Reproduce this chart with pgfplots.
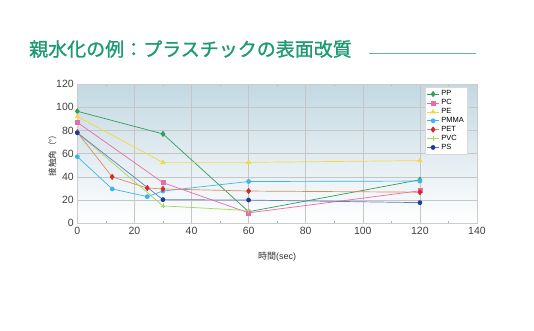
\documentclass[border=0pt]{standalone}
\usepackage{fontspec}
\setmainfont{Liberation Sans}
\newfontfamily\cjk{Noto Sans CJK JP}
\newfontfamily\cjkt[FakeBold=1.2]{Noto Sans CJK JP}
\usepackage{pgfplots}
\pgfplotsset{compat=1.18}
\definecolor{ttl}{HTML}{1E9A72}
\definecolor{cPP}{HTML}{2E9E5A}
\definecolor{cPC}{HTML}{EC6AA8}
\definecolor{cPE}{HTML}{F5D840}
\definecolor{cPM}{HTML}{3CB6EA}
\definecolor{cPETm}{HTML}{D42A2A}
\definecolor{cPETl}{HTML}{E08A62}
\definecolor{cPVC}{HTML}{A8D65A}
\definecolor{cPSm}{HTML}{1E3C96}
\definecolor{cPSl}{HTML}{6A7CC0}
\definecolor{bgtop}{HTML}{C3D8E2}
\begin{document}
\begin{tikzpicture}
\useasboundingbox (0pt,0pt) rectangle (534pt,330pt);
\node[anchor=west,text=ttl,font=\cjkt\fontsize{19}{19}\selectfont,inner sep=0pt] at (29pt,281pt) {親水化の例：プラスチックの表面改質};
\draw[ttl!70,line width=0.6pt] (369pt,276.7pt) -- (476pt,276.7pt);
\begin{axis}[
  at={(77.3pt,106.7pt)}, anchor=south west,
  scale only axis, width=399.7pt, height=139.3pt,
  xmin=0, xmax=140, ymin=0, ymax=120,
  xtick={0,20,...,140}, ytick={0,20,...,120},
  minor xtick={10,30,...,130},
  grid=major, major grid style={gray!45,line width=0.5pt},
  axis line style={gray!40},
  tick style={gray!60}, major tick length=0pt, minor tick length=2pt,
  tick align=inside,
  ticklabel style={font=\fontsize{10.5}{10.5}\selectfont, text=black!75},
  /pgf/number format/assume math mode=true,
  axis background/.style={top color=bgtop, bottom color=white},
  xlabel={\cjk 時間\normalfont(sec)},
  xlabel style={font=\fontsize{9}{9}\selectfont, text=black!80, yshift=-11pt},
  ylabel={\cjk 接触角（°）},
  ylabel style={font=\fontsize{8.5}{8.5}\selectfont, text=black!80, yshift=-7pt},
  legend style={at={(0.87,0.978)}, anchor=north west, font=\fontsize{7.5}{7.5}\selectfont, draw=gray!30, fill=white, inner sep=1.5pt, row sep=-1.8pt, legend cell align=left},
  legend image code/.code={\draw[#1] (0pt,0pt) -- (12pt,0pt); \draw[#1,mark repeat=2,mark phase=2] plot coordinates {(0pt,0pt) (6pt,0pt) (12pt,0pt)};},
  every axis plot/.append style={line width=0.7pt},
]
\addplot[cPP, mark=diamond*, mark size=2.6pt] coordinates {(0,96.5) (30,77) (60,10) (120,37.5)};
\addlegendentry{PP}
\addplot[cPC, mark=square*, mark size=2pt] coordinates {(0,87) (30,35) (60,9) (120,28)};
\addlegendentry{PC}
\addplot[cPE, mark=triangle*, mark size=2.4pt] coordinates {(0,92) (30,52.5) (60,52.5) (120,54)};
\addlegendentry{PE}
\addplot[cPM, mark=*, mark size=2pt] coordinates {(0,57.4) (12.2,29.6) (24.5,23) (30,27.8) (60,36) (120,36.4)};
\addlegendentry{PMMA}
\addplot[cPETl, mark=diamond*, mark size=2.6pt, mark options={fill=cPETm, draw=cPETm}] coordinates {(0,78.4) (12.2,40) (24.5,30.4) (30,29.6) (60,27.8) (120,26.8)};
\addlegendentry{PET}
\addplot[cPVC, mark=+, mark size=2.4pt] coordinates {(0,78) (30,15) (60,11)};
\addlegendentry{PVC}
\addplot[cPSl, mark=*, mark size=2pt, mark options={fill=cPSm, draw=cPSm}] coordinates {(0,78) (30,20.4) (60,20) (120,17.8)};
\addlegendentry{PS}
\end{axis}
\end{tikzpicture}
\end{document}
